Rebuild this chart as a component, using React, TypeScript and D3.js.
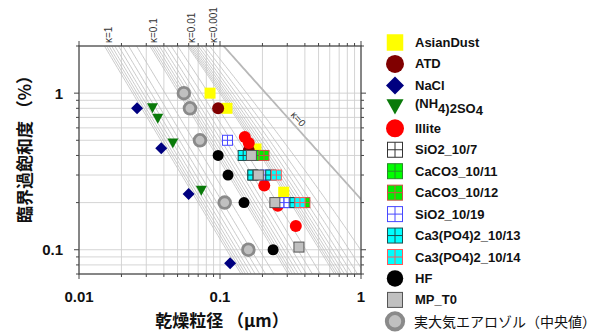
import React from "react";
import * as d3 from "d3";

// ---- axis ticks ----
const xTickValues = [0.01, 0.1, 1];
const xTickLabels = ["0.01", "0.1", "1"];
const yTickValues = [0.1, 1];
const yTickLabels = ["0.1", "1"];

// ---- κ-Köhler isolines ----
const kappaValues = [
  1, 0.9, 0.8, 0.7, 0.6, 0.5, 0.4, 0.3, 0.2, 0.1,
  0.09, 0.08, 0.07, 0.06, 0.05, 0.04, 0.03, 0.02, 0.01,
  0.009, 0.008, 0.007, 0.006, 0.005, 0.004, 0.003, 0.002, 0.001,
];
const kappaLabelValues = [1, 0.1, 0.01, 0.001];
const kappaLabelTexts = ["κ=1", "κ=0.1", "κ=0.01", "κ=0.001"];
const kappaZeroText = "κ=0";

// ---- measurements: [dry diameter (μm), critical supersaturation (%)] ----
const asianDust = [[0.085, 1.0], [0.112, 0.8], [0.18, 0.44], [0.283, 0.233]];
const atd = [[0.097, 0.8], [0.16, 0.43]];
const nacl = [[0.0258, 0.8], [0.0383, 0.444], [0.0599, 0.227], [0.118, 0.082]];
const ammoniumSulfate = [[0.0332, 0.8], [0.0362, 0.686], [0.0463, 0.478], [0.0737, 0.238]];
const illite = [[0.15, 0.524], [0.16, 0.48], [0.206, 0.257], [0.257, 0.191], [0.345, 0.142]];
const sio2_1007 = [[0.171, 0.3]];
const caco3_1011 = [[0.195, 0.4]];
const caco3_1012 = [[0.205, 0.4], [0.4, 0.2]];
const sio2_1019 = [[0.113, 0.5], [0.209, 0.3], [0.284, 0.2], [0.309, 0.2]];
const ca3po42_1013 = [[0.146, 0.4], [0.171, 0.3], [0.229, 0.3], [0.34, 0.2]];
const ca3po42_1014 = [[0.251, 0.3], [0.369, 0.2]];
const hf = [[0.097, 0.4], [0.114, 0.3], [0.148, 0.2], [0.238, 0.1]];
const mpT0 = [[0.167, 0.4], [0.187, 0.3], [0.245, 0.2], [0.363, 0.104]];
const ambientMedian = [[0.0554, 1.0], [0.0612, 0.8], [0.0721, 0.5], [0.108, 0.2], [0.159, 0.1]];

const seriesNames = [
  "AsianDust", "ATD", "NaCl", "(NH4)2SO4", "Illite", "SiO2_10/7", "CaCO3_10/11",
  "CaCO3_10/12", "SiO2_10/19", "Ca3(PO4)2_10/13", "Ca3(PO4)2_10/14", "HF", "MP_T0",
  "実大気エアロゾル（中央値）",
];
const seriesData = [
  asianDust, atd, nacl, ammoniumSulfate, illite, sio2_1007, caco3_1011,
  caco3_1012, sio2_1019, ca3po42_1013, ca3po42_1014, hf, mpT0, ambientMedian,
];

type Shape = "square" | "circle" | "diamond" | "triangle" | "grid" | "ring";
interface Style { shape: Shape; fill: string; stroke?: string; size: number; }

const seriesStyles: Style[] = [
  { shape: "square", fill: "#ffff00", size: 11 },
  { shape: "circle", fill: "#800000", size: 12 },
  { shape: "diamond", fill: "#000080", size: 12 },
  { shape: "triangle", fill: "#0a7a0a", size: 11 },
  { shape: "circle", fill: "#ff0000", size: 12 },
  { shape: "grid", fill: "#ffffff", stroke: "#333333", size: 10 },
  { shape: "grid", fill: "#00ff00", stroke: "#2a8a2a", size: 10 },
  { shape: "grid", fill: "#00ee00", stroke: "#d0504a", size: 10 },
  { shape: "grid", fill: "#ffffff", stroke: "#4848ff", size: 10 },
  { shape: "grid", fill: "#00ffff", stroke: "#1e4e4e", size: 10 },
  { shape: "grid", fill: "#00ffff", stroke: "#ff5a5a", size: 10 },
  { shape: "circle", fill: "#000000", size: 11 },
  { shape: "square", fill: "#c0c0c0", stroke: "#555555", size: 10 },
  { shape: "ring", fill: "#c0c0c0", stroke: "#8a8a8a", size: 14.5 },
];

// ---- layout ----
const W = 603;
const H = 336;
const PLOT = { left: 79, right: 361, top: 46, bottom: 274 };

const xScale = d3.scaleLog().domain([0.01, 1]).range([PLOT.left, PLOT.right]);
const yScale = d3.scaleLog().domain([0.07, 2]).range([PLOT.bottom, PLOT.top]);

// Kelvin parameter for water at 298 K, μm
const A_KELVIN = 0.0021;

// critical supersaturation (%) of a particle with dry diameter dd (μm) and hygroscopicity k
function criticalSS(dd: number, k: number): number {
  if (k === 0) return (Math.exp(A_KELVIN / dd) - 1) * 100;
  const d3d = dd * dd * dd;
  const lnS = (t: number) => {
    const D = Math.exp(t);
    const D3 = D * D * D;
    return Math.log((D3 - d3d) / (D3 - d3d * (1 - k))) + A_KELVIN / D;
  };
  let a = Math.log(dd * (1 + 1e-7));
  let b = Math.log(dd * 2000);
  const g = (Math.sqrt(5) - 1) / 2;
  let c = b - g * (b - a);
  let d = a + g * (b - a);
  let fc = lnS(c);
  let fd = lnS(d);
  for (let i = 0; i < 90; i++) {
    if (fc > fd) {
      b = d; d = c; fd = fc; c = b - g * (b - a); fc = lnS(c);
    } else {
      a = c; c = d; fc = fd; d = a + g * (b - a); fd = lnS(d);
    }
  }
  return (Math.exp(Math.max(fc, fd)) - 1) * 100;
}

// dry diameter at which a κ line reaches a given supersaturation
function diameterAt(ss: number, k: number): number {
  let lo = Math.log(0.003);
  let hi = Math.log(3);
  for (let i = 0; i < 60; i++) {
    const mid = (lo + hi) / 2;
    if (criticalSS(Math.exp(mid), k) > ss) lo = mid; else hi = mid;
  }
  return Math.exp((lo + hi) / 2);
}

const sampleDiameters = d3.range(0, 161).map((i) => Math.pow(10, -2.1 + (i / 160) * 2.2));

const kohlerLine = d3
  .line<number[]>()
  .x((p) => xScale(p[0]))
  .y((p) => yScale(p[1]));

function kappaPath(k: number): string {
  const pts = sampleDiameters.map((dd) => [dd, criticalSS(dd, k)]);
  return kohlerLine(pts) || "";
}

function Marker({ style, x, y, scale = 1 }: { style: Style; x: number; y: number; scale?: number }) {
  const s = style.size * scale;
  const h = s / 2;
  switch (style.shape) {
    case "square":
      return (
        <rect x={x - h} y={y - h} width={s} height={s} fill={style.fill}
          stroke={style.stroke || "none"} strokeWidth={style.stroke ? 1 : 0} />
      );
    case "circle":
      return <circle cx={x} cy={y} r={h} fill={style.fill} />;
    case "diamond":
      return (
        <path d={`M${x},${y - h}L${x + h},${y}L${x},${y + h}L${x - h},${y}Z`} fill={style.fill} />
      );
    case "triangle": {
      const th = s * 0.9;
      return (
        <path d={`M${x - h},${y - th / 2}L${x + h},${y - th / 2}L${x},${y + th / 2}Z`} fill={style.fill} />
      );
    }
    case "grid":
      return (
        <g>
          <rect x={x - h} y={y - h} width={s} height={s} fill={style.fill} stroke={style.stroke} strokeWidth={1} />
          <line x1={x} x2={x} y1={y - h} y2={y + h} stroke={style.stroke} strokeWidth={1} />
          <line x1={x - h} x2={x + h} y1={y} y2={y} stroke={style.stroke} strokeWidth={1} />
        </g>
      );
    case "ring": {
      const sw = 2.8 * scale;
      return <circle cx={x} cy={y} r={h - sw / 2} fill={style.fill} stroke={style.stroke} strokeWidth={sw} />;
    }
  }
  return null;
}

const latin = "'Liberation Sans', Arial, sans-serif";
const cjk = "'Noto Sans CJK JP', sans-serif";

export default function App() {
  const xGrid = xScale.ticks();
  const yGrid = yScale.ticks();
  const isMajor = (v: number) => Math.abs(Math.log10(v) - Math.round(Math.log10(v))) < 1e-6;

  const legendX = 395;
  const legendY0 = 42.5;
  const legendStep = 21.45;

  // κ=0 label placement along its line
  const k0a = 0.33;
  const k0b = 0.36;
  const pa = [xScale(k0a), yScale(criticalSS(k0a, 0))];
  const pb = [xScale(k0b), yScale(criticalSS(k0b, 0))];
  const ang = Math.atan2(pb[1] - pa[1], pb[0] - pa[0]);
  const k0x = pa[0] + Math.sin(ang) * 7;
  const k0y = pa[1] - Math.cos(ang) * 7;

  return (
    <svg width={W} height={H} style={{ display: "block", position: "absolute", left: 0, top: 0 }}
      viewBox={`0 0 ${W} ${H}`}>
      <rect x={0} y={0} width={W} height={H} fill="#ffffff" />
      <defs>
        <clipPath id="plot-clip">
          <rect x={PLOT.left} y={PLOT.top} width={PLOT.right - PLOT.left} height={PLOT.bottom - PLOT.top} />
        </clipPath>
      </defs>

      {/* grid */}
      <g stroke="#cfcfcf" strokeWidth={0.9}>
        {xGrid.map((v, i) => (
          <line key={`gx${i}`} x1={xScale(v)} x2={xScale(v)} y1={PLOT.top} y2={PLOT.bottom} />
        ))}
        {yGrid.map((v, i) => (
          <line key={`gy${i}`} x1={PLOT.left} x2={PLOT.right} y1={yScale(v)} y2={yScale(v)} />
        ))}
      </g>

      {/* κ isolines */}
      <g clipPath="url(#plot-clip)" fill="none">
        {kappaValues.map((k) => (
          <path key={`k${k}`} d={kappaPath(k)} stroke="#c4c4c4" strokeWidth={0.9} />
        ))}
        <path d={kappaPath(0)} stroke="#b8b8b8" strokeWidth={1.8} />
      </g>

      {/* κ labels */}
      {kappaLabelValues.map((k, i) => {
        const x = xScale(diameterAt(2, k)) + 4;
        return (
          <text key={`kl${k}`} transform={`translate(${x},${PLOT.top - 3}) rotate(-90)`}
            fontFamily={latin} fontSize={10} fill="#333" dominantBaseline="central">
            {kappaLabelTexts[i]}
          </text>
        );
      })}
      <text transform={`translate(${k0x},${k0y}) rotate(${(ang * 180) / Math.PI})`}
        fontFamily={latin} fontSize={10} fill="#333" textAnchor="middle" dominantBaseline="central">
        {kappaZeroText}
      </text>

      {/* frame and ticks */}
      <rect x={PLOT.left} y={PLOT.top} width={PLOT.right - PLOT.left} height={PLOT.bottom - PLOT.top}
        fill="none" stroke="#444" strokeWidth={1.2} />
      <g stroke="#444" strokeWidth={1}>
        {xGrid.map((v, i) => {
          const len = isMajor(v) ? 5 : 3;
          const x = xScale(v);
          return (
            <g key={`tx${i}`}>
              <line x1={x} x2={x} y1={PLOT.bottom} y2={PLOT.bottom + len} />
              <line x1={x} x2={x} y1={PLOT.top} y2={PLOT.top - len} />
            </g>
          );
        })}
        {yGrid.map((v, i) => {
          const len = isMajor(v) ? 5 : 3;
          const y = yScale(v);
          return (
            <g key={`ty${i}`}>
              <line x1={PLOT.left - len} x2={PLOT.left} y1={y} y2={y} />
              <line x1={PLOT.right} x2={PLOT.right + len} y1={y} y2={y} />
            </g>
          );
        })}
      </g>

      {/* tick labels */}
      {xTickValues.map((v, i) => (
        <text key={`xl${i}`} x={xScale(v)} y={302} textAnchor="middle" fontFamily={latin}
          fontWeight="bold" fontSize={15} fill="#111">
          {xTickLabels[i]}
        </text>
      ))}
      {yTickValues.map((v, i) => (
        <text key={`yl${i}`} x={63} y={yScale(v)} textAnchor="end" dominantBaseline="central"
          fontFamily={latin} fontWeight="bold" fontSize={15} fill="#111">
          {yTickLabels[i]}
        </text>
      ))}

      {/* axis titles */}
      <text x={222} y={327} textAnchor="middle" fontFamily={cjk} fontWeight="bold" fontSize={17} fill="#111">
        乾燥粒径 （μm）
      </text>
      <text transform={`translate(23,145) rotate(-90)`} textAnchor="middle" dominantBaseline="central"
        fontFamily={cjk} fontWeight="bold" fontSize={17} fill="#111">
        臨界過飽和度 （%）
      </text>

      {/* data */}
      <g>
        {seriesData.map((pts, si) =>
          pts.map((p, pi) => (
            <Marker key={`m${si}-${pi}`} style={seriesStyles[si]} x={xScale(p[0])} y={yScale(p[1])} />
          ))
        )}
      </g>

      {/* legend */}
      <g>
        {seriesNames.map((name, i) => {
          const y = legendY0 + i * legendStep;
          const st = seriesStyles[i];
          const sc = st.shape === "ring" ? 1.4 : st.shape === "triangle" ? 1.55 : 1.5;
          return (
            <g key={`lg${i}`}>
              <Marker style={st} x={legendX} y={y} scale={sc} />
              {i === 3 ? (
                <text x={415} y={y + 1} dominantBaseline="central" fontFamily={latin}
                  fontWeight="bold" fontSize={13} fill="#111">
                  <tspan dy={-5}>(NH</tspan>
                  <tspan dy={5}>4)2SO</tspan>
                  <tspan dy={2}>4</tspan>
                </text>
              ) : i === 13 ? (
                <text x={414} y={y} dominantBaseline="central" fontFamily={cjk} fontSize={14} fill="#111">
                  {name}
                </text>
              ) : (
                <text x={415} y={y} dominantBaseline="central" fontFamily={latin}
                  fontWeight="bold" fontSize={13} fill="#111">
                  {name}
                </text>
              )}
            </g>
          );
        })}
      </g>
    </svg>
  );
}
